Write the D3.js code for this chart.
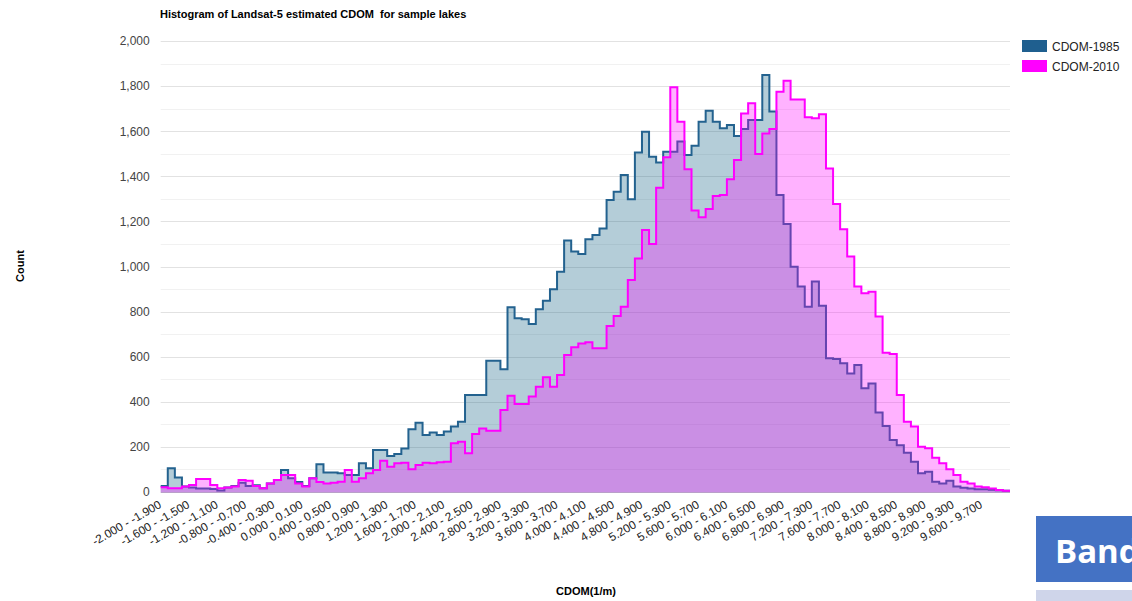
<!DOCTYPE html>
<html>
<head>
<meta charset="utf-8">
<script src="https://cdn.jsdelivr.net/npm/d3@7"></script>
<style>
  body { margin: 0; background: #fff; }
  svg { display: block; font-family: Arial, "Liberation Sans", sans-serif; }
</style>
</head>
<body>
<svg id="chart" width="1132" height="601"></svg>
<script>
// Histogram bins: 0.1-wide CDOM classes from -2.0 to 10.0
const binLow = -2.0;
const binWidth = 0.1;
const binCount = 120;

// Pixel counts per bin
const cdom1985 = [
  27, 105, 64, 24, 20, 15, 15, 13, 7, 20,
  27, 41, 27, 30, 17, 38, 53, 98, 61, 44,
  27, 61, 123, 87, 87, 83, 75, 75, 127, 105,
  186, 186, 160, 169, 193, 278, 307, 253, 264, 253,
  268, 290, 312, 430, 430, 430, 582, 582, 544, 819,
  770, 766, 745, 810, 848, 899, 977, 1115, 1066, 1055,
  1121, 1140, 1169, 1295, 1332, 1406, 1298, 1505, 1598, 1487,
  1461, 1509, 1509, 1554, 1495, 1535, 1642, 1691, 1642, 1613,
  1628, 1579, 1610, 1650, 1650, 1849, 1687, 1317, 1189, 999,
  911, 822, 933, 826, 593, 590, 571, 526, 563, 460,
  481, 352, 293, 231, 207, 174, 134, 83, 90, 46,
  38, 50, 24, 19, 16, 12, 12, 10, 8, 6
];
const cdom2010 = [
  21, 17, 17, 24, 31, 58, 58, 31, 17, 20,
  24, 53, 50, 27, 17, 38, 53, 75, 75, 38,
  24, 61, 44, 38, 41, 46, 98, 46, 61, 83,
  98, 139, 112, 127, 130, 101, 120, 130, 127, 132,
  134, 216, 223, 172, 257, 282, 272, 272, 364, 427,
  390, 390, 423, 467, 509, 467, 519, 607, 642, 659,
  664, 637, 637, 736, 781, 822, 940, 1035, 1162, 1100,
  1349, 1484, 1795, 1642, 1431, 1248, 1218, 1255, 1313, 1317,
  1387, 1472, 1679, 1724, 1499, 1590, 1610, 1775, 1824, 1741,
  1741, 1662, 1657, 1675, 1435, 1277, 1165, 1044, 911, 881,
  888, 778, 618, 612, 430, 312, 290, 201, 194, 152,
  127, 101, 75, 46, 38, 24, 21, 16, 9, 6
];

const seriesNames = ["CDOM-1985", "CDOM-2010"];

// Every fourth bin is labelled on the x axis
const xTickLabels = [
  "-2.000 - -1.900", "-1.600 - -1.500", "-1.200 - -1.100", "-0.800 - -0.700",
  "-0.400 - -0.300", "0.000 - 0.100", "0.400 - 0.500", "0.800 - 0.900",
  "1.200 - 1.300", "1.600 - 1.700", "2.000 - 2.100", "2.400 - 2.500",
  "2.800 - 2.900", "3.200 - 3.300", "3.600 - 3.700", "4.000 - 4.100",
  "4.400 - 4.500", "4.800 - 4.900", "5.200 - 5.300", "5.600 - 5.700",
  "6.000 - 6.100", "6.400 - 6.500", "6.800 - 6.900", "7.200 - 7.300",
  "7.600 - 7.700", "8.000 - 8.100", "8.400 - 8.500", "8.800 - 8.900",
  "9.200 - 9.300", "9.600 - 9.700"
];
const yTickValues = [0, 200, 400, 600, 800, 1000, 1200, 1400, 1600, 1800, 2000];
const yGridValues = [100, 300, 500, 700, 900, 1100, 1300, 1500, 1700, 1900];

const categories = d3.range(binCount).map(i => {
  const lo = binLow + i * binWidth;
  const hi = lo + binWidth;
  const f = v => (Math.abs(v) < 1e-9 ? 0 : v).toFixed(3);
  return f(lo) + " - " + f(hi);
});

const colors = {
  line: ["#23628f", "#ff00ff"],
  fill: ["#08587f", "#ff00ff"]
};

const svg = d3.select("#chart");
const plot = { left: 160.7, right: 1010, top: 41, bottom: 492 };

const x = d3.scaleBand().domain(categories).range([plot.left, plot.right]).padding(0);
const y = d3.scaleLinear().domain([0, 2000]).range([plot.bottom, plot.top]);

// Grid lines
const grid = svg.append("g");
grid.selectAll("line.minor").data(yGridValues).join("line")
  .attr("class", "minor")
  .attr("x1", plot.left).attr("x2", plot.right)
  .attr("y1", d => Math.round(y(d)) + 0.5).attr("y2", d => Math.round(y(d)) + 0.5)
  .attr("stroke", "#f1f1f1");
grid.selectAll("line.major").data(yTickValues.filter(v => v > 0)).join("line")
  .attr("class", "major")
  .attr("x1", plot.left).attr("x2", plot.right)
  .attr("y1", d => Math.round(y(d)) + 0.5).attr("y2", d => Math.round(y(d)) + 0.5)
  .attr("stroke", "#e2e2e2");

// Step outline points for a series
function stepPoints(values) {
  const pts = [];
  categories.forEach((c, i) => {
    pts.push([x(c), values[i]]);
    pts.push([x(c) + x.bandwidth(), values[i]]);
  });
  return pts;
}

const area = d3.area().x(d => d[0]).y0(y(0)).y1(d => y(d[1]));
const line = d3.line().x(d => d[0]).y(d => y(d[1]));

[cdom1985, cdom2010].forEach((vals, k) => {
  const pts = stepPoints(vals);
  svg.append("path").attr("d", area(pts))
    .attr("fill", colors.fill[k]).attr("fill-opacity", 0.3);
  svg.append("path").attr("d", line(pts))
    .attr("fill", "none").attr("stroke", colors.line[k])
    .attr("stroke-width", 2).attr("stroke-linejoin", "miter");
});

// Baseline
svg.append("line")
  .attr("x1", plot.left).attr("x2", plot.right)
  .attr("y1", y(0) + 0.5).attr("y2", y(0) + 0.5)
  .attr("stroke", "#b9a0c9").attr("stroke-width", 1);

// Y axis
const yAxis = svg.append("g")
  .attr("transform", `translate(${plot.left},0)`)
  .call(d3.axisLeft(y).tickValues(yTickValues).tickFormat(d3.format(",")).tickSize(0).tickPadding(11));
yAxis.select(".domain").remove();
yAxis.selectAll("text")
  .attr("font-size", 12).attr("fill", "#444")
  .attr("font-family", "Arial, 'Liberation Sans', sans-serif");

// X axis
const xAxis = svg.append("g")
  .attr("transform", `translate(0,${plot.bottom})`)
  .call(d3.axisBottom(x).tickValues(xTickLabels).tickSize(0));
xAxis.select(".domain").remove();
xAxis.selectAll("text")
  .attr("x", 0).attr("y", 0).attr("dy", 0)
  .attr("text-anchor", "end")
  .attr("transform", "translate(-2,15) rotate(-30)")
  .attr("font-size", 11.8).attr("fill", "#222")
  .attr("font-family", "Arial, 'Liberation Sans', sans-serif");

// Titles
svg.append("text")
  .attr("x", 160).attr("y", 18)
  .attr("font-size", 11).attr("font-weight", "bold").attr("fill", "#000")
  .text("Histogram of Landsat-5 estimated CDOM\u00a0 for sample lakes");

svg.append("text")
  .attr("transform", "translate(24,266) rotate(-90)")
  .attr("text-anchor", "middle")
  .attr("font-size", 11).attr("font-weight", "bold").attr("fill", "#000")
  .text("Count");

svg.append("text")
  .attr("x", 586).attr("y", 595)
  .attr("text-anchor", "middle")
  .attr("font-size", 11).attr("font-weight", "bold").attr("fill", "#000")
  .text("CDOM(1/m)");

// Legend
const legend = svg.append("g").attr("transform", "translate(1022,40)");
seriesNames.forEach((name, k) => {
  const g = legend.append("g").attr("transform", `translate(0,${k * 20})`);
  g.append("rect").attr("width", 25).attr("height", 12).attr("fill", k === 0 ? "#1f5f8f" : "#ff00ff");
  g.append("text").attr("x", 30).attr("y", 10.5)
    .attr("font-size", 12).attr("fill", "#222").text(name);
});

// Slide panel at the lower right, its heading clipped to the panel
svg.append("defs").append("clipPath").attr("id", "panel-clip")
  .append("rect").attr("x", 1036).attr("y", 516).attr("width", 96).attr("height", 66);
svg.append("rect").attr("x", 1036).attr("y", 516).attr("width", 96).attr("height", 66).attr("fill", "#4472c4");
svg.append("g").attr("clip-path", "url(#panel-clip)")
  .append("text").attr("x", 1055).attr("y", 563)
  .attr("font-family", "'Open Sans', 'Noto Sans', sans-serif")
  .attr("font-size", 33).attr("font-weight", "bold").attr("fill", "#fff")
  .text("Band");
svg.append("rect").attr("x", 1036).attr("y", 590).attr("width", 96).attr("height", 11).attr("fill", "#cfd5ea");
</script>
</body>
</html>
